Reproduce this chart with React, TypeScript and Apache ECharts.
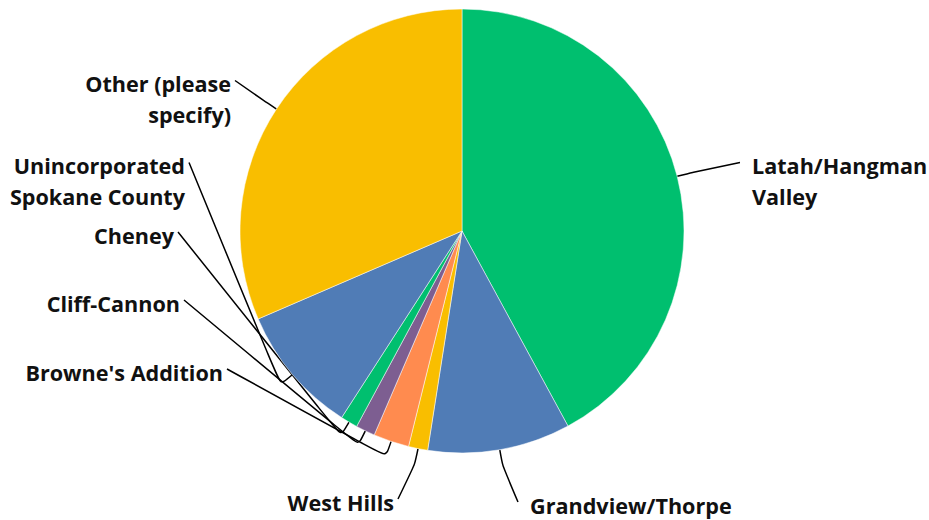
import React, { useEffect, useRef } from "react";
import * as echarts from "echarts";

const categories = [
  "Latah/Hangman Valley",
  "Grandview/Thorpe",
  "West Hills",
  "Browne's Addition",
  "Cliff-Cannon",
  "Cheney",
  "Unincorporated Spokane County",
  "Other (please specify)",
];
const labelTexts = [
  "Latah/Hangman\nValley",
  "Grandview/Thorpe",
  "West Hills",
  "Browne's Addition",
  "Cliff-Cannon",
  "Cheney",
  "Unincorporated\nSpokane County",
  "Other (please\nspecify)",
];
const values = [42.1, 10.4, 1.4, 2.6, 1.4, 1.25, 9.4, 31.5];
const colors = ["#00BF6F", "#507CB6", "#F9BE00", "#FF8B4F", "#7D5E91", "#00BF6F", "#507CB6", "#F9BE00"];

const CX = 462;
const CY = 231;
const R = 222;
const LINE_H = 31;

const labelPos = [
  { x: 752, y: 181, align: "left" },
  { x: 530, y: 505, align: "left" },
  { x: 394, y: 502, align: "right" },
  { x: 223, y: 372, align: "right" },
  { x: 180, y: 303, align: "right" },
  { x: 174, y: 235, align: "right" },
  { x: 185, y: 181, align: "right" },
  { x: 231, y: 99, align: "right" },
];

export default function App() {
  const ref = useRef<HTMLDivElement>(null);
  useEffect(() => {
    const chart = echarts.init(ref.current!, null, { renderer: "svg" });
    const total = values.reduce((a, b) => a + b, 0);
    const midAngles: number[] = [];
    let acc = 0;
    values.forEach((v) => {
      midAngles.push(((acc + v / 2) / total) * Math.PI * 2);
      acc += v;
    });
    chart.setOption({
      animation: false,
      color: colors,
      series: [
        {
          type: "pie",
          center: [CX, CY],
          radius: R,
          startAngle: 90,
          clockwise: true,
          avoidLabelOverlap: false,
          itemStyle: { borderColor: "#ffffff", borderWidth: 0.5 },
          label: {
            show: true,
            position: "outside",
            color: "#111",
            fontFamily: "Open Sans",
            fontWeight: "bold",
            fontSize: 21.6,
            lineHeight: LINE_H,
            formatter: (p: any) => labelTexts[p.dataIndex],
          },
          labelLine: {
            show: true,
            length: 20,
            length2: 20,
            smooth: 0.25,
            lineStyle: { color: "#000", width: 1.5 },
          },
          labelLayout: (p: any) => {
            const i = p.dataIndex;
            const lp = labelPos[i];
            const a = midAngles[i];
            const sx = Math.sin(a);
            const sy = -Math.cos(a);
            const nLines = labelTexts[i].split("\n").length;
            const firstY = lp.y - ((nLines - 1) * LINE_H) / 2;
            const ax = lp.align === "right" ? lp.x + 4 : lp.x - 12;
            const ay = firstY - 3;
            return {
              x: lp.x,
              y: lp.y,
              align: lp.align,
              verticalAlign: "middle",
              labelLinePoints: [
                [CX + R * sx, CY + R * sy],
                [CX + (R + 16) * sx, CY + (R + 16) * sy],
                [ax, ay],
              ],
            };
          },
          emphasis: { disabled: true },
          data: categories.map((c, i) => ({ name: c, value: values[i] })),
        },
      ],
    });
    return () => chart.dispose();
  }, []);
  return (
    <div
      ref={ref}
      style={{ position: "fixed", left: 0, top: 0, width: 929, height: 520, background: "#fff" }}
    />
  );
}
